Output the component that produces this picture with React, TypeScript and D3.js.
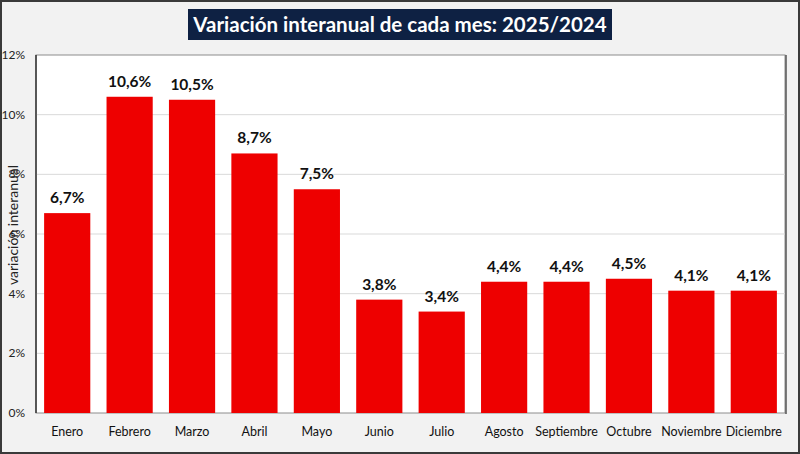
import React from 'react'
import * as d3 from 'd3'

// Chart data
const months = ['Enero', 'Febrero', 'Marzo', 'Abril', 'Mayo', 'Junio', 'Julio', 'Agosto', 'Septiembre', 'Octubre', 'Noviembre', 'Diciembre']
const variation = [6.7, 10.6, 10.5, 8.7, 7.5, 3.8, 3.4, 4.4, 4.4, 4.5, 4.1, 4.1]
const yTicks = [0, 2, 4, 6, 8, 10, 12]

const title = 'Variación interanual de cada mes: 2025/2024'
const yLabel = 'variación interanual'

const W = 800
const H = 454
const margin = { top: 55, right: 15, bottom: 41, left: 36 }
const FONT = 'Lato, "Open Sans", sans-serif'

const App: React.FC = () => {
  const innerW = W - margin.left - margin.right
  const innerH = H - margin.top - margin.bottom

  const x = d3.scaleBand<string>()
    .domain(months)
    .range([0, innerW])
    .paddingInner(0.26)
    .paddingOuter(0.13)

  const y = d3.scaleLinear()
    .domain([0, 12])
    .range([innerH, 0])

  const fmt = (v: number) => d3.format('.1f')(v).replace('.', ',') + '%'

  return (
    <div style={{ position: 'absolute', left: 0, top: 0 }}>
      <svg width={W} height={H} style={{ display: 'block', fontFamily: FONT }}>
        <rect x={1} y={1} width={W - 2} height={H - 2} fill="#f2f2f2" stroke="#3a3a3a" strokeWidth={2} />

        {/* title */}
        <rect x={188} y={9} width={424} height={31} fill="#0e2143" />
        <text x={400} y={32} textAnchor="middle" fill="#fff" fontSize={20.5} fontWeight={700}>{title}</text>

        <g transform={`translate(${margin.left},${margin.top})`}>
          <rect x={0} y={0} width={innerW} height={innerH} fill="#fff" stroke="#8c8c8c" strokeWidth={1} />
          <line x1={innerW + 1} x2={innerW + 1} y1={0} y2={innerH + 1} stroke="#555" strokeWidth={1.5} />

          {yTicks.map(t => (
            <g key={t}>
              {t > 0 && t < 12 && (
                <line x1={0} x2={innerW} y1={y(t)} y2={y(t)} stroke="#d9d9d9" strokeWidth={1} />
              )}
              <text x={-11} y={y(t) + 4} textAnchor="end" fontSize={12} fill="#222">{t}%</text>
            </g>
          ))}

          {variation.map((v, i) => (
            <g key={months[i]}>
              <rect
                x={x(months[i])}
                y={y(v)}
                width={x.bandwidth()}
                height={innerH - y(v)}
                fill="#ee0000"
              />
              <text
                x={(x(months[i]) as number) + x.bandwidth() / 2}
                y={y(v) - 10}
                textAnchor="middle"
                fontSize={15.5}
                fontWeight={700}
                fill="#111"
              >{fmt(v)}</text>
              <text
                x={(x(months[i]) as number) + x.bandwidth() / 2}
                y={innerH + 23}
                textAnchor="middle"
                fontSize={12.5}
                fill="#111"
              >{months[i]}</text>
            </g>
          ))}

          <line x1={0} x2={0} y1={0} y2={innerH} stroke="#333" strokeWidth={1.5} />
        </g>

        <text
          transform={`translate(18,${225}) rotate(-90)`}
          textAnchor="middle"
          fontSize={14}
          fill="#222"
        >{yLabel}</text>
      </svg>
    </div>
  )
}

export default App
